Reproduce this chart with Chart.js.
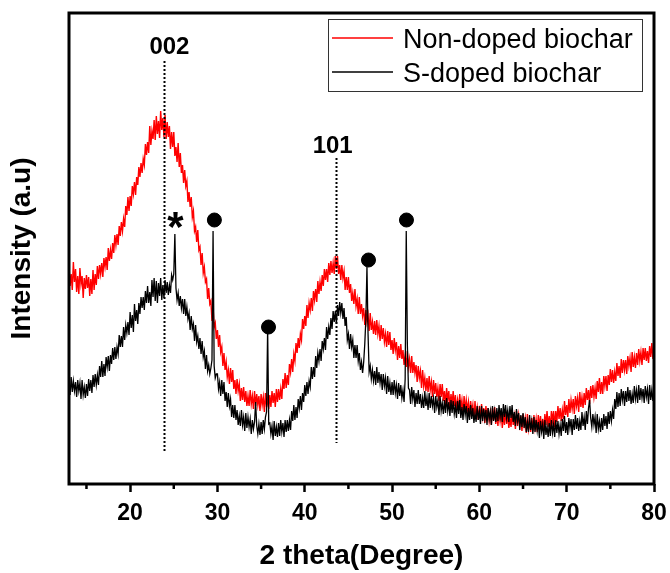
<!DOCTYPE html>
<html><head><meta charset="utf-8">
<script src="https://cdn.jsdelivr.net/npm/chart.js@4.4.1/dist/chart.umd.min.js"></script>
<style>html,body{margin:0;padding:0;background:#fff;}#wrap{width:670px;height:573px;}</style>
</head><body><div id="wrap"><canvas id="c" width="670" height="573"></canvas></div>
<script>
// 2-theta sampling grid (degrees)
const thetaStart = 13, thetaStep = 0.125;
// Non-doped biochar intensity (a.u.), 8 readings per degree, 13 -> 80
const nonDoped = [
218,198,210,194,222,202,215,192,
208,190,216,200,208,186,206,195,
209,196,207,188,205,190,214,194,
210,199,218,205,219,210,221,207,
226,217,227,214,236,223,234,225,
241,231,249,239,250,239,258,248,
262,253,265,257,278,269,287,273,
288,278,298,290,302,289,307,299,
317,307,321,311,325,319,340,329,
342,331,358,339,353,345,364,344,
368,350,363,346,373,354,366,347,
369,345,362,347,358,335,352,337,
352,328,337,322,341,317,331,311,
319,301,314,298,303,282,292,277,
287,267,273,253,257,242,254,234,
237,219,231,211,217,202,205,185,
196,180,183,163,177,157,161,145,
154,137,149,132,137,118,131,114,
122,107,114,100,116,102,114,95,
104,90,105,93,100,83,96,84,
97,82,93,78,88,78,94,80,
88,75,93,78,90,79,88,73,
90,79,87,72,91,77,86,75,
89,77,93,81,91,77,95,82,
95,84,95,85,105,95,111,96,
109,99,120,112,125,112,130,123,
141,131,146,136,150,144,165,155,
168,158,179,166,181,174,186,173,
193,184,195,182,203,190,202,193,
209,198,215,204,215,202,221,209,
223,211,221,210,228,215,228,210,
219,204,219,206,213,194,207,194,
207,191,200,183,191,180,195,178,
185,170,187,170,180,168,176,159,
174,162,169,153,171,154,162,150,
163,149,164,150,158,143,159,145,
156,142,150,137,153,139,152,134,
144,130,146,134,142,124,138,126,
140,125,134,119,128,117,133,117,
125,111,128,111,122,111,119,102,
118,106,113,96,114,98,106,93,
106,92,108,94,102,87,104,90,
101,87,96,83,100,87,100,83,
93,79,96,84,93,76,90,79,
93,78,89,74,84,74,90,76,
84,70,88,73,84,74,82,67,
83,72,79,64,83,67,76,64,
78,65,80,67,76,61,78,64,
76,63,71,59,76,64,77,60,
71,58,74,63,72,56,70,59,
74,60,70,56,66,57,73,59,
68,55,73,58,69,59,68,53,
70,59,66,51,70,55,63,52,
66,53,69,56,65,52,69,56,
68,55,65,53,70,59,73,57,
68,56,73,63,73,57,73,62,
78,65,76,63,74,65,83,69,
79,67,85,71,84,75,85,70,
88,78,86,72,92,77,87,76,
91,79,96,84,94,80,98,86,
99,87,96,85,103,92,106,90,
102,90,108,98,108,93,109,99,
115,102,114,101,112,103,121,108,
118,106,125,111,124,114,124,110,
128,118,126,112,132,117,127,116,
131,119,135,123,132,119,136,124,
136,123,133,121,138,127,141,125,
138
];
// S-doped biochar intensity (a.u.), 8 readings per degree, 13 -> 80
const sDoped = [
102,89,107,92,103,93,102,87,
104,93,101,85,104,89,97,86,
100,88,105,93,104,91,109,97,
110,99,109,99,118,107,123,107,
120,108,127,117,128,113,129,120,
136,124,137,125,137,130,149,137,
148,137,157,144,159,151,162,149,
172,156,169,152,180,163,174,160,
181,170,187,176,187,174,193,181,
198,181,192,178,204,187,206,183,
203,181,201,188,206,184,199,186,
204,191,202,189,199,191,209,204,
210,250,196,184,191,178,188,176,
185,170,185,168,177,165,171,154,
168,155,160,143,159,142,148,135,
146,130,143,127,133,115,129,113,
119,110,116,124,253,118,106,110,
110,95,102,88,104,90,102,83,
92,77,91,78,85,67,79,66,
79,64,74,59,68,58,74,59,
67,53,71,56,67,57,65,50,
64,55,62,82,58,50,60,49,
62,50,64,55,67,72,155,60,
61,50,58,44,63,48,57,47,
61,48,64,52,61,47,64,52,
64,53,64,54,73,63,79,64,
77,66,85,76,88,74,91,82,
99,88,102,90,103,97,117,105,
117,107,128,116,131,123,135,123,
143,135,146,134,157,145,157,149,
166,155,173,162,173,160,179,168,
182,171,181,165,176,158,167,144,
150,135,150,137,144,126,139,126,
139,123,131,114,122,111,122,140,
165,217,150,112,118,105,114,103,
113,99,117,101,112,101,110,94,
110,98,106,90,108,92,101,89,
102,89,104,91,99,85,101,88,
99,86,94,82,105,253,140,96,
94,80,97,85,94,77,91,80,
94,80,90,76,86,76,93,78,
87,74,91,76,88,78,86,71,
88,77,84,69,88,73,81,70,
84,71,86,73,82,68,84,71,
83,70,78,66,83,70,84,66,
77,64,80,69,78,61,76,64,
79,65,76,61,71,62,78,64,
73,60,78,63,75,65,74,59,
76,65,73,59,78,63,73,62,
76,63,79,67,76,62,80,67,
79,66,74,62,78,66,79,62,
72,58,75,63,71,54,69,57,
71,56,67,52,62,52,69,54,
63,50,67,52,64,53,62,46,
63,52,60,45,64,49,58,47,
61,48,64,51,60,47,64,51,
63,50,59,48,65,53,68,51,
62,49,66,56,65,49,65,54,
69,55,66,53,63,54,72,58,
67,54,73,60,76,84,66,57,
70,59,67,51,70,55,63,52,
66,54,70,58,68,55,72,60,
73,63,74,65,85,75,92,77,
91,78,95,84,93,78,93,82,
97,83,94,80,90,81,98,85,
94,81,99,84,96,86,95,81,
98,87,95,80,99,84,94,83,
96
];
const seriesLabels = ['Non-doped biochar', 'S-doped biochar'];
const xTicks = [20, 30, 40, 50, 60, 70, 80];
const minorTicks = [15, 25, 35, 45, 55, 65, 75];
// filled-circle peak markers
const dotX = [29.65, 35.85, 47.3, 51.65];
const dotY = [264, 157, 224, 264];
// asterisk marker
const starX = [25.2];
const starY = [267];
// crystal plane annotations
const planeLabels = ['002', '101'];
const planeLabelX = [24.5, 43.2];
const planeLabelY = [437, 338];
const planeLineX = [23.9, 43.6];
const planeLineTop = [423, 326];
const planeLineBottom = [32, 41];

const FONT = '"Liberation Sans", Arial, Helvetica, sans-serif';
const toXY = arr => arr.map((v, i) => ({x: thetaStart + i * thetaStep, y: v}));

const annot = {
  id: 'annot',
  afterDatasetsDraw(chart) {
    const {ctx, chartArea: a, scales: {x, y}} = chart;
    ctx.save();
    // dotted guide lines
    ctx.strokeStyle = '#000'; ctx.lineWidth = 2; ctx.setLineDash([2, 2]);
    planeLineX.forEach((v, i) => {
      const px = Math.round(x.getPixelForValue(v)) + 0.5;
      ctx.beginPath();
      ctx.moveTo(px, y.getPixelForValue(planeLineTop[i]));
      ctx.lineTo(px, y.getPixelForValue(planeLineBottom[i]));
      ctx.stroke();
    });
    ctx.setLineDash([]);
    ctx.fillStyle = '#000';
    ctx.font = 'bold 24px ' + FONT; ctx.textAlign = 'center'; ctx.textBaseline = 'middle';
    planeLabels.forEach((t, i) => ctx.fillText(t, x.getPixelForValue(planeLabelX[i]), y.getPixelForValue(planeLabelY[i])));
    // asterisk
    const sf = 42;
    ctx.font = 'bold ' + sf + 'px ' + FONT; ctx.textBaseline = 'alphabetic';
    starX.forEach((v, i) => ctx.fillText('*', x.getPixelForValue(v), y.getPixelForValue(starY[i]) + 0.56 * sf));
    // frame
    ctx.strokeStyle = '#000'; ctx.lineWidth = 3;
    ctx.strokeRect(a.left, a.top, a.right - a.left, a.bottom - a.top);
    // minor ticks
    ctx.lineWidth = 2.5;
    minorTicks.forEach(v => {
      const px = x.getPixelForValue(v);
      ctx.beginPath(); ctx.moveTo(px, a.bottom); ctx.lineTo(px, a.bottom + 5); ctx.stroke();
    });
    // legend
    const bx = a.right - 326, by = a.top + 6, bw = 314, bh = 72;
    ctx.fillStyle = '#fff'; ctx.fillRect(bx, by, bw, bh);
    ctx.strokeStyle = '#333'; ctx.lineWidth = 1;
    ctx.strokeRect(bx + 0.5, by + 0.5, bw, bh);
    ctx.font = '27px ' + FONT; ctx.textAlign = 'left'; ctx.textBaseline = 'alphabetic';
    const rows = [by + 19, by + 53];
    chart.data.datasets.slice(0, 2).forEach((ds, i) => {
      ctx.strokeStyle = ds.borderColor; ctx.lineWidth = 1.5;
      ctx.beginPath(); ctx.moveTo(bx + 4, rows[i]); ctx.lineTo(bx + 65, rows[i]); ctx.stroke();
      ctx.fillStyle = '#000';
      ctx.fillText(ds.label, bx + 75, rows[i] + 10);
    });
    ctx.restore();
  }
};

new Chart(document.getElementById('c'), {
  type: 'line',
  data: {
    datasets: [
      {label: seriesLabels[0], data: toXY(nonDoped), borderColor: '#ff0000', borderWidth: 1.4, pointRadius: 0, tension: 0, order: 2},
      {label: seriesLabels[1], data: toXY(sDoped), borderColor: '#000000', borderWidth: 1.3, pointRadius: 0, tension: 0, order: 1},
      {label: 'peaks', type: 'scatter', data: dotX.map((v, i) => ({x: v, y: dotY[i]})), backgroundColor: '#000', borderColor: '#000', pointRadius: 7, showLine: false, order: 0}
    ]
  },
  options: {
    responsive: false, animation: false, devicePixelRatio: 1,
    layout: {padding: {top: 13, right: 16, left: 0, bottom: 0}},
    plugins: {legend: {display: false}, tooltip: {enabled: false}},
    scales: {
      x: {
        type: 'linear', min: 13, max: 80,
        afterBuildTicks: s => { s.ticks = xTicks.map(v => ({value: v})); },
        afterFit: s => { s.height = 89; s.paddingLeft = 0; s.paddingRight = 0; },
        ticks: {color: '#000', font: {family: FONT, size: 23, weight: 'bold'}, padding: 8, maxRotation: 0, autoSkip: false},
        grid: {display: true, drawOnChartArea: false, drawTicks: true, tickLength: 8, tickWidth: 2.5, tickColor: '#000'},
        border: {display: false},
        title: {display: true, text: '2 theta(Degree)', color: '#000', font: {family: FONT, size: 28, weight: 'bold'}, padding: {top: 0, bottom: 0}}
      },
      y: {
        min: 0, max: 471,
        afterFit: s => { s.width = 69; },
        ticks: {display: false},
        grid: {display: false},
        border: {display: false},
        title: {display: true, text: 'Intensity (a.u)', color: '#000', font: {family: FONT, size: 28, weight: 'bold'}, padding: {top: 5, bottom: 0}}
      }
    }
  },
  plugins: [annot]
});
</script></body></html>
